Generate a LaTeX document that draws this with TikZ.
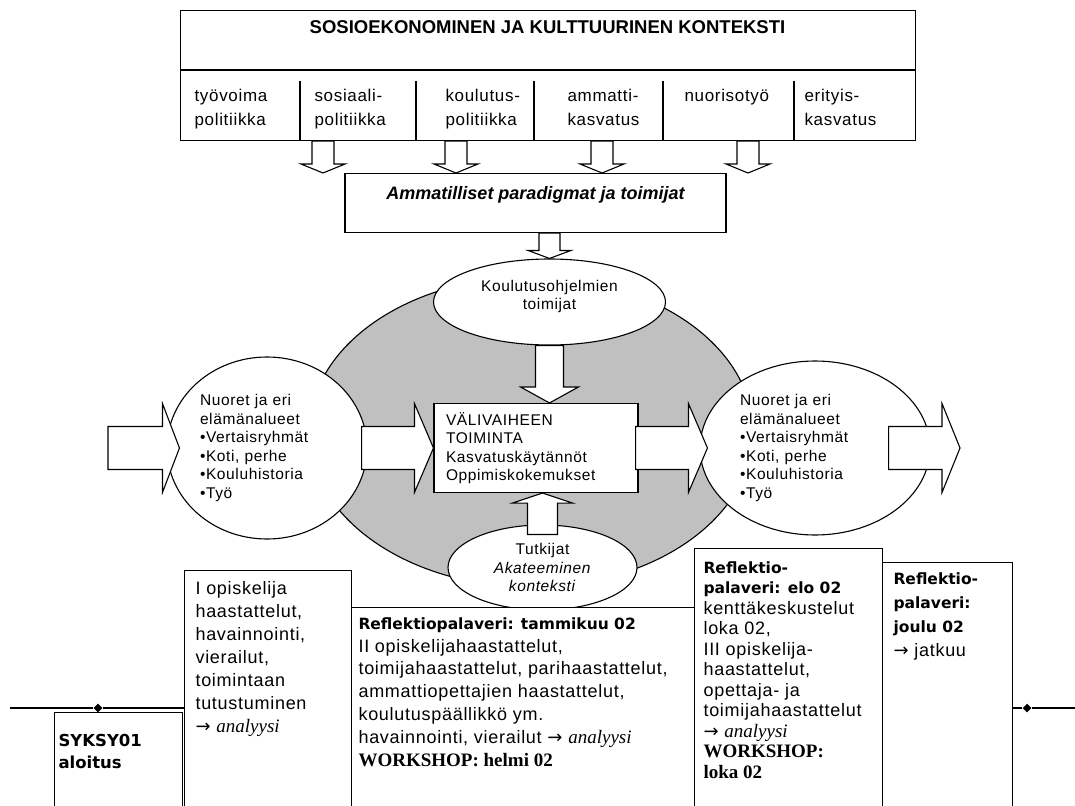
\documentclass[tikz,border=0pt]{standalone}
\usepackage{fontspec}
\setmainfont{Liberation Sans}
\newfontfamily\rasterfont{Liberation Sans}[LetterSpace=4]
\newfontfamily\widefont{DejaVu Sans}
\newfontfamily\serfont{Liberation Serif}
\usetikzlibrary{shapes.geometric,calc,positioning}

\definecolor{silver}{HTML}{C0C0C0}

\newcommand\arr{{\widefont →}}
\newcommand\analyysi{\arr\ {\serfont\itshape\fontsize{19}{19}\selectfont analyysi}}
\newcommand\hd[1]{{\widefont\bfseries\fontsize{15.5}{15.5}\selectfont #1}}
\newcommand\ws[1]{{\serfont\bfseries\fontsize{19}{19}\selectfont #1}}

\tikzset{
  box/.style={draw, rectangle, fill=white, inner sep=0pt},
  blob/.style={draw, ellipse, fill=white, inner sep=0pt, align=center},
  mid/.style={font=\rasterfont\fontsize{15.5}{18.5}\selectfont},
  low/.style={anchor=north west, inner sep=0pt, align=left,
    font=\rasterfont\fontsize{18}{#1}\selectfont},
  % block arrow: shaft half width, head half width, head length
  fat/.style n args={3}{draw, fill=white,
    to path={
      ($(\tikztostart)!#1!90:(\tikztotarget)$)
      -- ($($(\tikztotarget)!#3!(\tikztostart)$)!#1!-90:(\tikztostart)$)
      -- ($($(\tikztotarget)!#3!(\tikztostart)$)!#2!-90:(\tikztostart)$)
      -- (\tikztotarget)
      -- ($($(\tikztotarget)!#3!(\tikztostart)$)!#2!90:(\tikztostart)$)
      -- ($($(\tikztotarget)!#3!(\tikztostart)$)!#1!90:(\tikztostart)$)
      -- ($(\tikztostart)!#1!-90:(\tikztotarget)$)
      -- cycle}},
}

\begin{document}
\begin{tikzpicture}[x=1pt, y=-1pt, line width=1.1pt]
    \clip (0,0) rectangle (1075,805);

    % context frame with the policy columns
    \node[box, anchor=north west, minimum width=735pt, minimum height=130pt] (ctx) at (180,10) {};
    \node[font=\bfseries\fontsize{18.5}{22}\selectfont] (ctxtitle) at (547.5,27)
        {SOSIOEKONOMINEN JA KULTTUURINEN KONTEKSTI};
    \draw (180,70) -- (915,70);
    \foreach \x in {300,416,534,663,794}
        \draw (\x,81) -- (\x,140);
    \foreach \x/\txt [count=\i] in {194/{työvoima\\politiikka}, 314/{sosiaali-\\politiikka},
            445/{koulutus-\\politiikka}, 567/{ammatti-\\kasvatus}, 684/{nuorisotyö},
            804/{erityis-\\kasvatus}}
        \node[anchor=north west, inner sep=0pt, align=left,
            font=\rasterfont\fontsize{17}{24}\selectfont] (pol\i) at (\x,89) {\txt};

    \node[box, anchor=north, minimum width=381pt, text height=25.5pt, text depth=33.5pt,
        font=\bfseries\itshape\fontsize{18}{22}\selectfont] (paradigm) at (535.5,173)
        {Ammatilliset paradigmat ja toimijat};
    \foreach \x in {323,456,602,748} {
        \coordinate (c) at (\x,0);
        \draw[fat={11pt}{22pt}{9pt}] (c |- ctx.south) to (c |- paradigm.north);
    }

    % grey field and the actors round it
    \node[draw, ellipse, fill=silver, inner sep=0pt, minimum width=444pt, minimum height=310pt] (arena) at (531,432) {};
    \node[blob, mid, minimum width=232pt, minimum height=86pt] (koul) at (549.5,302)
        {Koulutusohjelmien\\toimijat\\[-4pt]\mbox{}};
    \node[blob, mid, minimum width=200pt, minimum height=182pt, text width=134pt, align=left] (youthL) at (267,448)
        {Nuoret ja eri\\elämänalueet\\•Vertaisryhmät\\•Koti, perhe\\•Kouluhistoria\\•Työ};
    \node[blob, mid, minimum width=230pt, minimum height=174pt, text width=150pt, align=left] (youthR) at (815,448)
        {Nuoret ja eri\\elämänalueet\\•Vertaisryhmät\\•Koti, perhe\\•Kouluhistoria\\•Työ};
    \node[blob, mid, minimum width=189pt, minimum height=85pt] (tutk) at (542.5,567.5)
        {Tutkijat\\\textit{Akateeminen}\\\textit{konteksti}};
    \node[box, mid, minimum height=89pt, text width=180pt, inner xsep=12pt, align=left] (stage) at (536,448)
        {VÄLIVAIHEEN\\TOIMINTA\\Kasvatuskäytännöt\\Oppimiskokemukset};

    \coordinate (inL) at (108,448);
    \coordinate (outR) at (960,448);
    \draw[fat={10.5pt}{21.5pt}{8pt}] (paradigm.south -| koul.north) to (koul.north);
    \draw[fat={14pt}{29pt}{16pt}] (koul.south) to (koul.south |- stage.north);
    \draw[fat={15pt}{30pt}{10pt}] ([yshift=-10pt]tutk.north) to (tutk.north |- stage.south);
    \draw[fat={21.5pt}{44.5pt}{17pt}] (inL) to ([xshift=13pt]youthL.west);
    \draw[fat={21.5pt}{44.5pt}{19pt}] ([xshift=-6pt]youthL.east) to (stage.west);
    \draw[fat={21.5pt}{44.5pt}{19pt}] ([xshift=-3pt]stage.east) to ([xshift=8pt]youthR.west);
    \draw[fat={21.5pt}{44.5pt}{18pt}] ([xshift=-42pt]youthR.east) to (outR);

    % time line
    \node[box, anchor=north west, minimum width=128pt, minimum height=110pt] (syksy) at (54,712) {};
    \node[box, anchor=north west, minimum width=167pt, minimum height=250pt] (haast1) at (184,570) {};
    \node[box, anchor=north west, minimum width=343pt, minimum height=215pt] (tammi) at (351,607) {};
    \node[box, anchor=north west, minimum width=188pt, minimum height=275pt] (elo) at (694,548) {};
    \node[box, anchor=north west, minimum width=130pt, minimum height=260pt] (joulu) at (882,562) {};

    \node[low=22, below right=22pt and 4pt of syksy.north west] (syksytxt)
        {{\widefont\bfseries\fontsize{16.5}{16.5}\selectfont SYKSY01}\\{\widefont\bfseries\fontsize{16.5}{16.5}\selectfont aloitus}};
    \node[low=23, below right=11pt and 11pt of haast1.north west] (haast1txt)
        {I opiskelija\\haastattelut,\\havainnointi,\\vierailut,\\toimintaan\\tutustuminen\\\analyysi};
    \node[low=22.8, below right=10pt and 7pt of tammi.north west] (tammitxt)
        {\hd{Reflektiopalaveri: tammikuu 02}\\II opiskelijahaastattelut,\\toimijahaastattelut, parihaastattelut,\\ammattiopettajien haastattelut,\\koulutuspäällikkö ym.\\havainnointi, vierailut \analyysi\\\ws{WORKSHOP: helmi 02}};
    \node[low=20.5, below right=13pt and 9pt of elo.north west] (elotxt)
        {\hd{Reflektio-}\\\hd{palaveri: elo 02}\\kenttäkeskustelut\\loka 02,\\III opiskelija-\\haastattelut,\\opettaja- ja\\toimijahaastattelut\\\analyysi\\\ws{WORKSHOP:}\\\ws{loka 02}};
    \node[low=24, below right=10pt and 11pt of joulu.north west] (joulutxt)
        {\hd{Reflektio-}\\\hd{palaveri:}\\\hd{joulu 02}\\\arr\ jatkuu};

    \node[diamond, fill=black, inner sep=0pt, minimum size=9pt] (dotL) at (98,708) {};
    \node[diamond, fill=black, inner sep=0pt, minimum size=9pt] (dotR) at (1027,708) {};
    \coordinate (edgeL) at (10,708);
    \coordinate (edgeR) at (1075,708);
    \draw (edgeL) -- (dotL) -- (dotL -| haast1.west);
    \draw (dotR -| joulu.east) -- (dotR) -- (edgeR);
\end{tikzpicture}
\end{document}
